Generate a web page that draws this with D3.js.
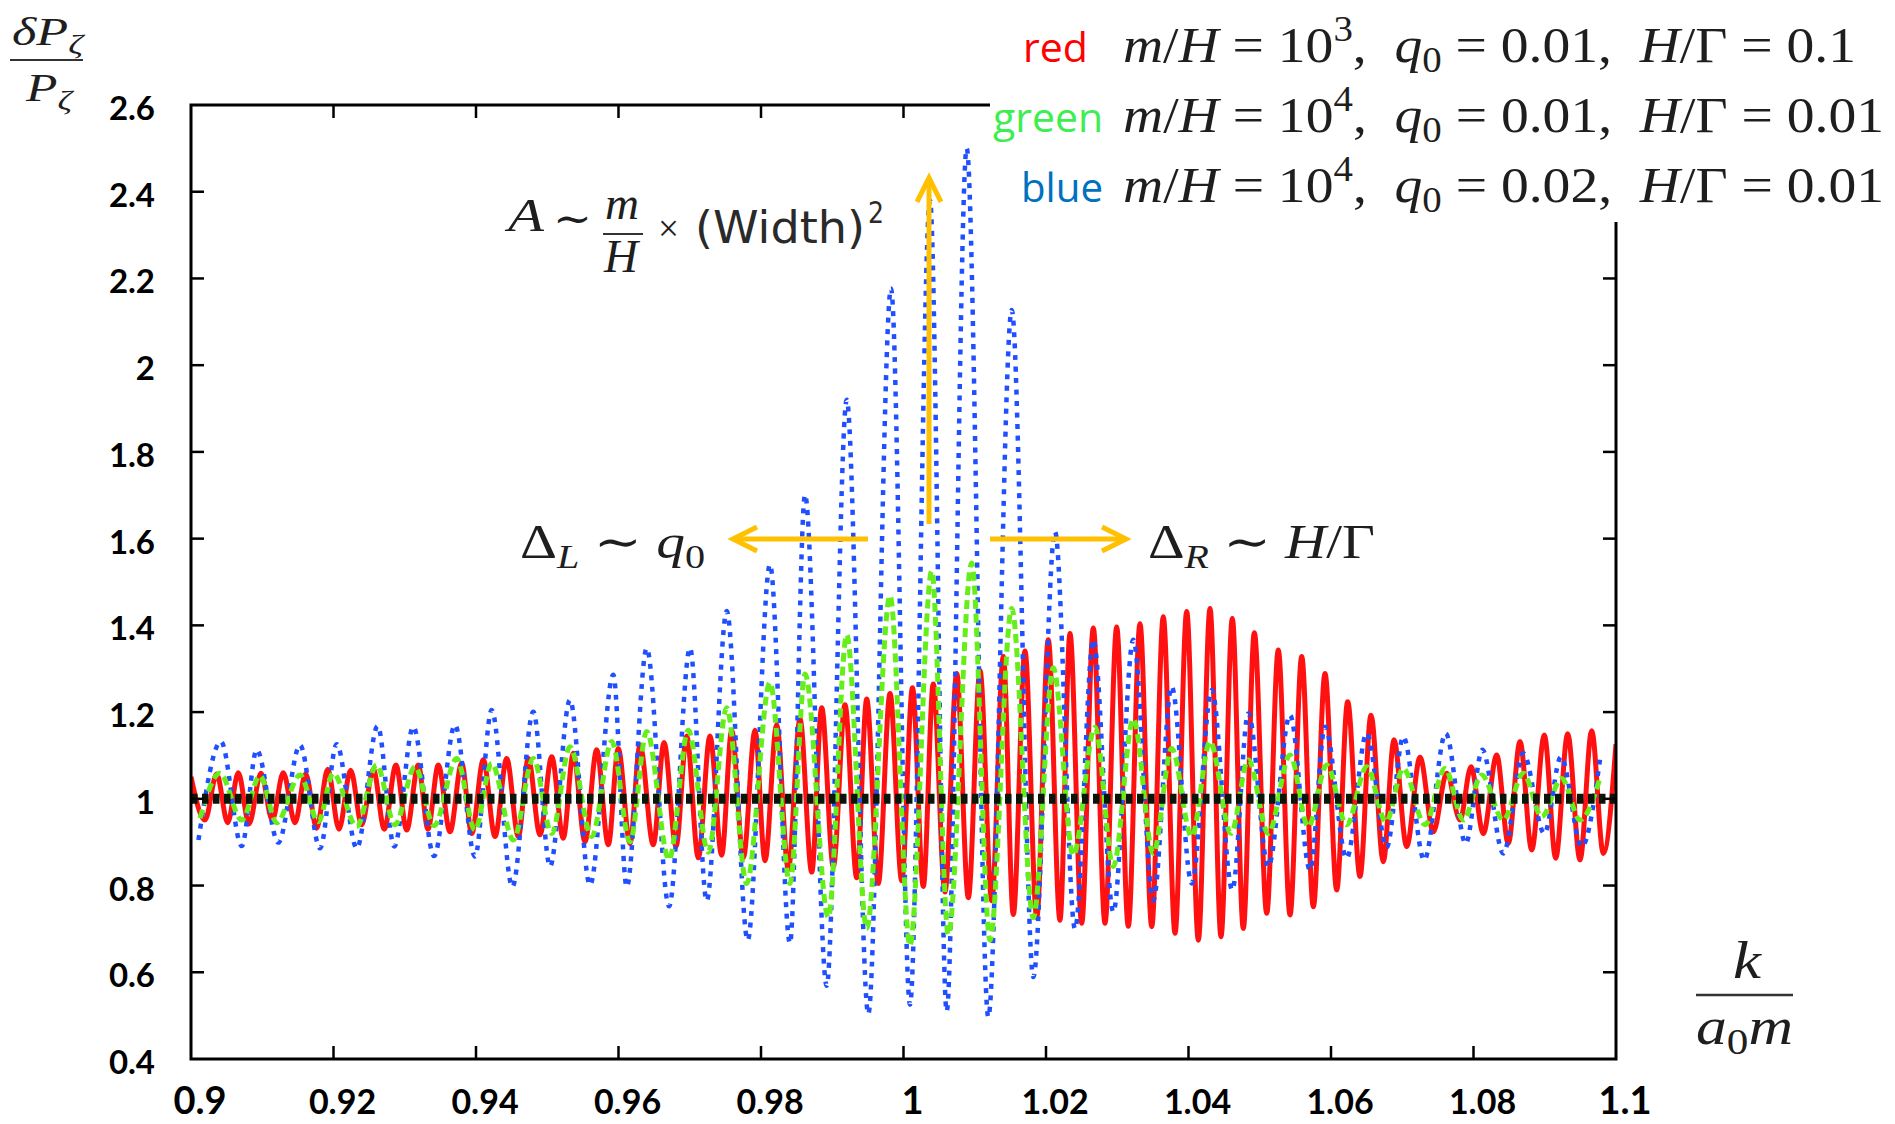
<!DOCTYPE html>
<html><head><meta charset="utf-8">
<script src="https://cdn.jsdelivr.net/npm/d3@7"></script>
<style>html,body{margin:0;padding:0;background:#fff;}svg{display:block;}text{white-space:pre;}</style>
</head><body>
<svg id="chart" width="1895" height="1124"></svg>
<script>
// ---------- data ----------
const xTicks = [0.9,0.92,0.94,0.96,0.98,1.0,1.02,1.04,1.06,1.08,1.1];
const xTickLabels = ["0.9","0.92","0.94","0.96","0.98","1","1.02","1.04","1.06","1.08","1.1"];
const yTicks = [0.4,0.6,0.8,1.0,1.2,1.4,1.6,1.8,2.0,2.2,2.4,2.6];
const yTickLabels = ["0.4","0.6","0.8","1","1.2","1.4","1.6","1.8","2","2.2","2.4","2.6"];

// red: m/H=10^3, q0=0.01, H/Γ=0.1  (extrema, [k, δP/P])
const redSeries = [
[0.90000,1.051],[0.90196,0.951],[0.90361,1.057],[0.90515,0.945],[0.90664,1.060],[0.90814,0.942],
[0.90982,1.059],[0.91141,0.951],[0.91295,1.060],[0.91460,0.945],[0.91610,1.058],[0.91764,0.932],
[0.91919,1.068],[0.92077,0.930],[0.92241,1.066],[0.92396,0.940],[0.92559,1.068],[0.92713,0.930],
[0.92877,1.078],[0.93027,0.928],[0.93190,1.078],[0.93326,0.930],[0.93471,1.078],[0.93635,0.924],
[0.93799,1.082],[0.93940,0.920],[0.94103,1.090],[0.94267,0.913],[0.94431,1.093],[0.94594,0.913],
[0.94734,1.093],[0.94898,0.917],[0.95063,1.097],[0.95225,0.909],[0.95366,1.105],[0.95530,0.901],
[0.95694,1.113],[0.95857,0.894],[0.95997,1.116],[0.96161,0.897],[0.96302,1.124],[0.96488,0.894],
[0.96639,1.130],[0.96807,0.890],[0.96957,1.145],[0.97120,0.864],[0.97284,1.145],[0.97448,0.870],
[0.97589,1.158],[0.97752,0.864],[0.97916,1.158],[0.98056,0.857],[0.98220,1.171],[0.98383,0.837],
[0.98547,1.184],[0.98712,0.831],[0.98852,1.210],[0.99015,0.844],[0.99179,1.217],[0.99343,0.818],
[0.99484,1.230],[0.99646,0.805],[0.99811,1.243],[0.99975,0.811],[1.00126,1.256],[1.00278,0.798],
[1.00418,1.265],[1.00582,0.785],[1.00747,1.289],[1.00910,0.772],[1.01074,1.296],[1.01238,0.765],
[1.01401,1.328],[1.01541,0.733],[1.01705,1.341],[1.01870,0.726],[1.02032,1.367],[1.02196,0.720],
[1.02337,1.381],[1.02501,0.713],[1.02664,1.394],[1.02828,0.713],[1.02992,1.396],[1.03155,0.706],
[1.03319,1.404],[1.03484,0.705],[1.03646,1.420],[1.03811,0.690],[1.03975,1.432],[1.04138,0.674],
[1.04302,1.439],[1.04456,0.682],[1.04615,1.416],[1.04769,0.701],[1.04924,1.383],[1.05098,0.736],
[1.05260,1.343],[1.05425,0.732],[1.05589,1.328],[1.05752,0.751],[1.05916,1.289],[1.06080,0.790],
[1.06234,1.224],[1.06407,0.821],[1.06561,1.193],[1.06734,0.855],[1.06884,1.136],[1.07062,0.890],
[1.07249,1.096],[1.07436,0.924],[1.07624,1.059],[1.07811,0.951],[1.07965,1.074],[1.08138,0.920],
[1.08326,1.101],[1.08488,0.897],[1.08653,1.132],[1.08817,0.882],[1.08994,1.147],[1.09154,0.863],
[1.09322,1.150],[1.09495,0.859],[1.09659,1.157],[1.09822,0.874],[1.10000,1.126]
];

// green: m/H=10^4, q0=0.01, H/Γ=0.01
const greenSeries = [
[0.90126,0.955],[0.90407,1.059],[0.90712,0.951],[0.90968,1.053],[0.91203,0.945],[0.91530,1.055],
[0.91787,0.947],[0.91997,1.059],[0.92326,0.936],[0.92606,1.078],[0.92863,0.940],[0.93144,1.074],
[0.93411,0.938],[0.93729,1.093],[0.93986,0.928],[0.94220,1.082],[0.94524,0.905],[0.94804,1.093],
[0.95063,0.920],[0.95319,1.120],[0.95624,0.913],[0.95905,1.132],[0.96161,0.901],[0.96396,1.155],
[0.96709,0.860],[0.96980,1.158],[0.97260,0.877],[0.97519,1.210],[0.97799,0.805],[0.98126,1.268],
[0.98407,0.805],[0.98618,1.288],[0.98945,0.727],[0.99203,1.378],[0.99484,0.701],[0.99811,1.468],
[1.00091,0.662],[1.00396,1.525],[1.00629,0.687],[1.00957,1.544],[1.01214,0.674],[1.01519,1.439],
[1.01822,0.726],[1.02102,1.302],[1.02383,0.870],[1.02688,1.165],[1.02945,0.844],[1.03225,1.184],
[1.03506,0.874],[1.03764,1.116],[1.04045,0.913],[1.04302,1.132],[1.04596,0.920],[1.04839,1.090],
[1.05120,0.920],[1.05425,1.101],[1.05681,0.936],[1.05940,1.078],[1.06220,0.940],[1.06501,1.074],
[1.06772,0.947],[1.07015,1.070],[1.07319,0.940],[1.07600,1.070],[1.07857,0.951],[1.08115,1.055],
[1.08418,0.951],[1.08699,1.059],[1.08957,0.959],[1.09238,1.047],[1.09495,0.951],[1.09775,1.047]
];

// blue: m/H=10^4, q0=0.02, H/Γ=0.01
const blueSeries = [
[0.90105,0.905],[0.90421,1.132],[0.90712,0.891],[0.90922,1.113],[0.91225,0.899],[0.91530,1.124],
[0.91811,0.886],[0.92045,1.126],[0.92326,0.886],[0.92620,1.168],[0.92853,0.890],[0.93120,1.166],
[0.93411,0.868],[0.93705,1.170],[0.93986,0.867],[0.94220,1.205],[0.94510,0.797],[0.94804,1.201],
[0.95039,0.844],[0.95319,1.228],[0.95600,0.801],[0.95927,1.286],[0.96115,0.797],[0.96396,1.347],
[0.96709,0.752],[0.97004,1.348],[0.97238,0.765],[0.97519,1.433],[0.97813,0.674],[0.98126,1.540],
[0.98407,0.667],[0.98618,1.701],[0.98922,0.569],[0.99203,1.920],[0.99506,0.504],[0.99825,2.177],
[1.00091,0.525],[1.00372,2.380],[1.00606,0.510],[1.00887,2.500],[1.01190,0.497],[1.01519,2.127],
[1.01822,0.589],[1.02126,1.616],[1.02407,0.700],[1.02664,1.367],[1.02945,0.739],[1.03225,1.367],
[1.03506,0.766],[1.03764,1.259],[1.04045,0.805],[1.04326,1.251],[1.04615,0.790],[1.04839,1.197],
[1.05120,0.844],[1.05425,1.193],[1.05705,0.836],[1.05916,1.166],[1.06220,0.863],[1.06501,1.151],
[1.06782,0.888],[1.07015,1.143],[1.07309,0.859],[1.07610,1.151],[1.07891,0.897],[1.08124,1.113],
[1.08418,0.874],[1.08699,1.105],[1.08994,0.920],[1.09228,1.097],[1.09519,0.890],[1.09775,1.090]
];

// reference level δP/P = 1
const unitLine = [[0.9,1.0],[1.1,1.0]];

// orange annotation arrows, in data units: [k0, v0, k1, v1] (tail -> head)
const arrows = [
  [1.00358,1.634,1.00358,2.432],
  [0.99502,1.599,0.97607,1.599],
  [1.01214,1.599,1.03123,1.599]
];

// ---------- drawing ----------
const W = 1895, H = 1124;
const P = {left:191, right:1616, top:105, bottom:1059};
const svg = d3.select("#chart");
svg.append("rect").attr("width",W).attr("height",H).attr("fill","#fff");

const x = d3.scaleLinear().domain([0.9,1.1]).range([P.left,P.right]);
const y = d3.scaleLinear().domain([0.4,2.6]).range([P.bottom,P.top]);

svg.append("defs").append("clipPath").attr("id","clip")
  .append("rect").attr("x",P.left).attr("y",P.top-40).attr("width",P.right-P.left).attr("height",P.bottom-P.top+40);

const line = d3.line().x(d=>x(d[0])).y(d=>y(d[1])).curve(d3.curveMonotoneX);
const data = svg.append("g").attr("clip-path","url(#clip)");

data.append("path").datum(redSeries).attr("d",line).attr("fill","none")
  .attr("stroke","#ff1111").attr("stroke-width",5).attr("stroke-linejoin","round");
data.append("path").datum(blueSeries).attr("d",line).attr("fill","none")
  .attr("stroke","#1f4fff").attr("stroke-width",4.5).attr("stroke-dasharray","5,6.5");
data.append("path").datum(greenSeries).attr("d",line).attr("fill","none")
  .attr("stroke","#66ee1a").attr("stroke-width",5).attr("stroke-dasharray","9,5");
data.append("path").datum(unitLine).attr("d",d3.line().x(d=>x(d[0])).y(d=>y(d[1]))).attr("fill","none")
  .attr("stroke","#0a160a").attr("stroke-width",10).attr("stroke-dasharray","6.5,4.5");

// frame (top edge and right edge are interrupted by the legend block)
const legendLeft = 990, legendBottom = 222;
svg.append("path").attr("d",`M${legendLeft},${P.top}H${P.left}V${P.bottom}H${P.right}V${legendBottom}`)
  .attr("fill","none").attr("stroke","#000").attr("stroke-width",3);

const tk = 13;
const ticks = svg.append("g").attr("stroke","#000").attr("stroke-width",2.5);
xTicks.forEach(t=>{
  const xx = x(t);
  if (t>0.9+1e-9 && t<1.1-1e-9){
    ticks.append("line").attr("x1",xx).attr("x2",xx).attr("y1",P.bottom).attr("y2",P.bottom-tk);
    if (xx < legendLeft-5) ticks.append("line").attr("x1",xx).attr("x2",xx).attr("y1",P.top).attr("y2",P.top+tk);
  }
});
yTicks.forEach(t=>{
  const yy = y(t);
  if (t>0.4+1e-9 && t<2.6-1e-9){
    ticks.append("line").attr("x1",P.left).attr("x2",P.left+tk).attr("y1",yy).attr("y2",yy);
    if (yy > legendBottom+5) ticks.append("line").attr("x1",P.right).attr("x2",P.right-tk).attr("y1",yy).attr("y2",yy);
  }
});

// tick labels
const big = new Set(["0.9","1","1.1"]);
xTicks.forEach((t,i)=>{
  svg.append("text").attr("x",x(t)+9).attr("y",1114).attr("text-anchor","middle")
    .attr("font-family","Lato, 'Open Sans', sans-serif").attr("font-weight",700)
    .attr("font-size", big.has(xTickLabels[i]) ? 38 : 34).attr("fill","#000").text(xTickLabels[i]);
});
yTicks.forEach((t,i)=>{
  svg.append("text").attr("x",155).attr("y",y(t)+15).attr("text-anchor","end")
    .attr("font-family","Lato, 'Open Sans', sans-serif").attr("font-weight",700)
    .attr("font-size",33).attr("fill","#000").text(yTickLabels[i]);
});

// arrows
const orange = "#ffc000";
arrows.forEach(a=>{
  const x0=x(a[0]), y0=y(a[1]), x1=x(a[2]), y1=y(a[3]);
  svg.append("line").attr("x1",x0).attr("y1",y0).attr("x2",x1).attr("y2",y1)
    .attr("stroke",orange).attr("stroke-width",5);
  const ang = Math.atan2(y1-y0, x1-x0), L=24, wdt=12;
  const bx = x1 - L*Math.cos(ang), by = y1 - L*Math.sin(ang);
  const px = -Math.sin(ang)*wdt, py = Math.cos(ang)*wdt;
  svg.append("path").attr("d",`M${bx+px},${by+py}L${x1},${y1}L${bx-px},${by-py}`)
    .attr("fill","none").attr("stroke",orange).attr("stroke-width",5).attr("stroke-linejoin","miter");
});

// ---------- math text helper ----------
const SERIF = "'Liberation Serif', 'DejaVu Serif', serif";
function mathText(x0, y0, fs, segs, len, opts={}){
  const t = svg.append("text").attr("x",x0).attr("y",y0).attr("font-family",opts.family||SERIF)
    .attr("font-size",fs).attr("fill",opts.fill||"#1e1e1e");
  let cur = 0;
  segs.forEach(s=>{
    const target = s.sup ? -fs*0.42 : (s.sub ? fs*0.2 : 0);
    const ts = t.append("tspan").attr("dy", target-cur).text(s.t);
    cur = target;
    if (s.i) ts.attr("font-style","italic");
    if (s.sup||s.sub) ts.attr("font-size", fs*0.7);
    if (s.ff) ts.attr("font-family", s.ff);
  });
  if (len) t.attr("textLength",len).attr("lengthAdjust","spacingAndGlyphs");
  return t;
}

// legend block
const legendRows = [
  {name:"red",   color:"#ff0000", nx:1023, nl:65,  base:62,  mh:"3", q:"0.01", hg:"0.1",  end:1856},
  {name:"green", color:"#3cee50", nx:993,  nl:110, base:132, mh:"4", q:"0.01", hg:"0.01", end:1884},
  {name:"blue",  color:"#0070c0", nx:1021, nl:82,  base:202, mh:"4", q:"0.02", hg:"0.01", end:1884}
];
legendRows.forEach(r=>{
  svg.append("text").attr("x",r.nx).attr("y",r.base).attr("font-family","'Open Sans', Lato, sans-serif")
    .attr("font-size",41).attr("fill",r.color).attr("textLength",r.nl).attr("lengthAdjust","spacingAndGlyphs").text(r.name);
  mathText(1123, r.base, 51, [
    {t:"m",i:1},{t:"/"},{t:"H",i:1},{t:" = 10"},{t:r.mh,sup:1},{t:",  "},{t:"q",i:1},{t:"0",sub:1},
    {t:" = "+r.q+",  "},{t:"H",i:1},{t:"/Γ = "+r.hg}
  ], r.end-1123);
});

// y-axis label  δP_ζ / P_ζ
mathText(12, 45, 40, [{t:"δ",i:1},{t:"P",i:1},{t:"ζ",sub:1,i:1}], 71);
svg.append("line").attr("x1",10).attr("x2",83).attr("y1",60).attr("y2",60).attr("stroke","#333").attr("stroke-width",2);
mathText(26, 101, 40, [{t:"P",i:1},{t:"ζ",sub:1,i:1}], 46);

// x-axis label  k / a0 m
mathText(1733, 978, 52, [{t:"k",i:1}], 28);
svg.append("line").attr("x1",1696).attr("x2",1793).attr("y1",995).attr("y2",995).attr("stroke","#333").attr("stroke-width",2.5);
mathText(1696, 1044, 52, [{t:"a",i:1},{t:"0",sub:1},{t:"m",i:1}], 97);

// amplitude annotation  A ~ m/H × (Width)^2
mathText(508, 231, 46, [{t:"A",i:1}], 36);
mathText(553, 233, 42, [{t:"∼"}], 39);
mathText(605, 219, 46, [{t:"m",i:1}], 34);
svg.append("line").attr("x1",603).attr("x2",643).attr("y1",234).attr("y2",234).attr("stroke","#333").attr("stroke-width",2);
mathText(604, 272, 46, [{t:"H",i:1}], 34);
mathText(658, 241, 38, [{t:"×"}], 21);
mathText(695, 243, 44, [{t:"(Width)"}], 170, {family:"'DejaVu Sans', 'Open Sans', sans-serif", fill:"#2a2a2a"});
mathText(868, 223, 30, [{t:"2"}], 16, {family:"'DejaVu Sans', 'Open Sans', sans-serif", fill:"#2a2a2a"});

// width annotations
mathText(520, 558, 48, [{t:"Δ"},{t:"L",i:1,sub:1},{t:" ∼ "},{t:"q",i:1},{t:"0",sub:1}], 185);
mathText(1148, 558, 48, [{t:"Δ"},{t:"R",i:1,sub:1},{t:" ∼ "},{t:"H",i:1},{t:"/Γ"}], 227);
</script>
</body></html>
